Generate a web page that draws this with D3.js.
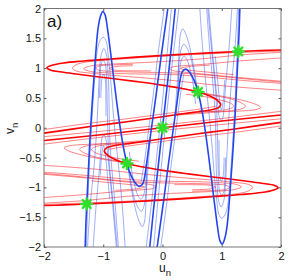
<!DOCTYPE html>
<html>
<head>
<meta charset="utf-8">
<script src="https://cdn.jsdelivr.net/npm/d3@7"></script>
<style>
  body { margin: 0; background: #fff; }
  svg { display: block; }
  text { font-family: "Liberation Sans", Arial, sans-serif; fill: #111; }
</style>
</head>
<body>
<div id="chart"></div>
<script>
// ---- data: unstable manifold branches (u_n, v_n) ----
// stable manifold (blue) is the mirror image across u = v, so it is drawn from the same arrays with axes swapped
const branchA = [[2.0,1.305],[1.65,1.294],[1.28,1.278],[0.8,1.255],[0.24,1.227],[-0.32,1.193],[-0.88,1.154],[-1.33,1.12],[-1.67,1.087],[-1.865,1.048],[-1.95,1.008],[-1.893,0.969],[-1.67,0.93],[-1.33,0.885],[-0.88,0.829],[-0.43,0.773],[0.02,0.711],[0.35,0.655],[0.6,0.6],[0.8,0.532],[0.927,0.459],[0.983,0.392],[0.944,0.336],[0.831,0.303],[0.52,0.258],[0,0.185],[-0.6,0.101],[-1.16,0.028],[-2.0,-0.09]];
const branchB = [[-2.0,-1.305],[-1.65,-1.294],[-1.28,-1.278],[-0.8,-1.255],[-0.24,-1.227],[0.32,-1.193],[0.88,-1.154],[1.33,-1.12],[1.67,-1.087],[1.865,-1.048],[1.95,-1.008],[1.893,-0.969],[1.67,-0.93],[1.33,-0.885],[0.88,-0.829],[0.43,-0.773],[-0.02,-0.711],[-0.35,-0.655],[-0.6,-0.6],[-0.8,-0.532],[-0.927,-0.459],[-0.983,-0.392],[-0.944,-0.336],[-0.831,-0.303],[-0.52,-0.258],[0,-0.185],[0.6,-0.101],[1.16,-0.028],[2.0,0.09]];
const branchC = [[-2,-0.215],[-1,-0.112],[0,0],[1,0.112],[2,0.215]];

const loop0 = [[2.0,1.285],[1.3,1.262],[0.6,1.232],[0,1.2],[-0.6,1.16],[-1.0,1.13],[-1.3,1.1],[-1.46,1.055],[-1.52,1.0],[-1.45,0.95],[-1.2,0.915],[-0.8,0.875],[-0.3,0.835],[0.2,0.79],[0.7,0.735],[1.3,0.68],[2.0,0.63]];
const loop1 = [[2.0,1.265],[1.3,1.22],[0.6,1.15],[0,1.11],[-0.6,1.08],[-1.0,1.06],[-1.22,1.035],[-1.33,0.99],[-1.22,0.945],[-1.0,0.925],[-0.6,0.905],[-0.2,0.9],[0.3,0.885],[0.8,0.845],[1.4,0.79],[2.0,0.745]];
const loop2 = [[-0.5,1.065],[-0.9,1.05],[-1.07,1.035],[-1.13,1.0],[-1.07,0.965],[-0.9,0.948],[-0.5,0.935],[0,0.925],[0.5,0.905],[1.0,0.86],[1.5,0.81],[2.0,0.765]];
const loop3 = [[-0.5,1.04],[-0.8,1.025],[-0.9,0.995],[-0.8,0.965],[-0.5,0.955],[-0.2,0.955]];
const loop4 = [[2.0,1.17],[1.3,1.12],[0.7,1.065],[0.35,1.04],[0.17,1.02],[0.12,0.99],[0.17,0.96],[0.35,0.935],[0.7,0.9],[1.2,0.85],[2.0,0.78]];
const loop5 = [[0.8,1.05],[0.45,1.025],[0.3,0.995],[0.45,0.965],[0.8,0.93],[1.2,0.89]];
const loop6 = [[0.4,0.56],[0.75,0.515],[1.0,0.46],[1.15,0.41],[1.2,0.365],[1.15,0.325],[0.95,0.285],[0.6,0.255],[0.2,0.23]];
const loop7 = [[0.5,0.6],[0.9,0.535],[1.2,0.47],[1.36,0.4],[1.4,0.36],[1.34,0.32],[1.1,0.28],[0.7,0.245],[0.2,0.21]];
const loop8 = [[0.62,0.59],[1.0,0.53],[1.35,0.46],[1.58,0.39],[1.66,0.34],[1.58,0.305],[1.3,0.28],[0.9,0.27],[0.62,0.29]];
const tailA = [[0.9,0.36],[0.6,0.31],[0,0.23],[-0.6,0.15],[-1.2,0.08],[-2.0,-0.03]];
const loop0r = [[-2.0,-1.285],[-1.3,-1.262],[-0.6,-1.232],[0,-1.2],[0.6,-1.16],[1.0,-1.13],[1.3,-1.1],[1.46,-1.055],[1.52,-1.0],[1.45,-0.95],[1.2,-0.915],[0.8,-0.875],[0.3,-0.835],[-0.2,-0.79],[-0.7,-0.735],[-1.3,-0.68],[-2.0,-0.63]];
const loop1r = [[-2.0,-1.265],[-1.3,-1.22],[-0.6,-1.15],[0,-1.11],[0.6,-1.08],[1.0,-1.06],[1.22,-1.035],[1.33,-0.99],[1.22,-0.945],[1.0,-0.925],[0.6,-0.905],[0.2,-0.9],[-0.3,-0.885],[-0.8,-0.845],[-1.4,-0.79],[-2.0,-0.745]];
const loop2r = [[0.5,-1.065],[0.9,-1.05],[1.07,-1.035],[1.13,-1.0],[1.07,-0.965],[0.9,-0.948],[0.5,-0.935],[0,-0.925],[-0.5,-0.905],[-1.0,-0.86],[-1.5,-0.81],[-2.0,-0.765]];
const loop3r = [[0.5,-1.04],[0.8,-1.025],[0.9,-0.995],[0.8,-0.965],[0.5,-0.955],[0.2,-0.955]];
const loop4r = [[-2.0,-1.17],[-1.3,-1.12],[-0.7,-1.065],[-0.35,-1.04],[-0.17,-1.02],[-0.12,-0.99],[-0.17,-0.96],[-0.35,-0.935],[-0.7,-0.9],[-1.2,-0.85],[-2.0,-0.78]];
const loop5r = [[-0.8,-1.05],[-0.45,-1.025],[-0.3,-0.995],[-0.45,-0.965],[-0.8,-0.93],[-1.2,-0.89]];
const loop6r = [[-0.4,-0.56],[-0.75,-0.515],[-1.0,-0.46],[-1.15,-0.41],[-1.2,-0.365],[-1.15,-0.325],[-0.95,-0.285],[-0.6,-0.255],[-0.2,-0.23]];
const loop7r = [[-0.5,-0.6],[-0.9,-0.535],[-1.2,-0.47],[-1.36,-0.4],[-1.4,-0.36],[-1.34,-0.32],[-1.1,-0.28],[-0.7,-0.245],[-0.2,-0.21]];
const loop8r = [[-0.62,-0.59],[-1.0,-0.53],[-1.35,-0.46],[-1.58,-0.39],[-1.66,-0.34],[-1.58,-0.305],[-1.3,-0.28],[-0.9,-0.27],[-0.62,-0.29]];
const tailB = [[-0.9,-0.36],[-0.6,-0.31],[0,-0.23],[0.6,-0.15],[1.2,-0.08],[2.0,0.03]];
const diag1 = [[-2,-0.15],[-1,-0.055],[0,0.045],[1,0.155],[2,0.275]];
const diag2 = [[2,0.15],[1,0.055],[0,-0.045],[-1,-0.155],[-2,-0.275]];

const fixedU = [-1.28, -0.6, 0, 0.6, 1.28];
const fixedV = [-1.28, -0.6, 0, 0.6, 1.28];

const xTicks = [-2, -1, 0, 1, 2];
const yTicks = [-2, -1.5, -1, -0.5, 0, 0.5, 1, 1.5, 2];

const thickCurves = [branchA, branchB, branchC];
const thinCurves = [loop0, loop1, loop2, loop3, loop4, loop5, loop6, loop7, loop8, tailA,
    loop0r, loop1r, loop2r, loop3r, loop4r, loop5r, loop6r, loop7r, loop8r, tailB, diag1, diag2];

// ---- layout ----
const width = 289, height = 280;
const plot = { left: 44, right: 281, top: 8.5, bottom: 247 };

const svg = d3.select("#chart").append("svg")
    .attr("width", width)
    .attr("height", height);

const x = d3.scaleLinear().domain([-2, 2]).range([plot.left, plot.right]);
const y = d3.scaleLinear().domain([-2, 2]).range([plot.bottom, plot.top]);

svg.append("clipPath").attr("id", "plotclip")
    .append("rect")
    .attr("x", plot.left).attr("y", plot.top)
    .attr("width", plot.right - plot.left)
    .attr("height", plot.bottom - plot.top);

const curve = d3.curveCatmullRom.alpha(0.5);
const redLine = d3.line().x(d => x(d[0])).y(d => y(d[1])).curve(curve);
const blueLine = d3.line().x(d => x(d[1])).y(d => y(d[0])).curve(curve);

const g = svg.append("g").attr("clip-path", "url(#plotclip)");

// thin ones first, thick on top
g.selectAll(".red-thin").data(thinCurves).join("path")
    .attr("class", "red-thin")
    .attr("d", redLine)
    .attr("fill", "none")
    .attr("stroke", "#ff1a1a")
    .attr("stroke-opacity", 0.72)
    .attr("stroke-width", 0.75);

g.selectAll(".blue-thin").data(thinCurves).join("path")
    .attr("class", "blue-thin")
    .attr("d", blueLine)
    .attr("fill", "none")
    .attr("stroke", "#2f4ff0")
    .attr("stroke-opacity", 0.62)
    .attr("stroke-width", 0.75);

g.selectAll(".red-thick").data(thickCurves).join("path")
    .attr("class", "red-thick")
    .attr("d", redLine)
    .attr("fill", "none")
    .attr("stroke", "#ff0000")
    .attr("stroke-width", 1.6);

g.selectAll(".blue-thick").data(thickCurves).join("path")
    .attr("class", "blue-thick")
    .attr("d", blueLine)
    .attr("fill", "none")
    .attr("stroke", "#2645ec")
    .attr("stroke-width", 1.6);

// fixed points as asterisks
const r = 5.5;
const star = [0, 45, 90, 135].map(a => {
    const t = a * Math.PI / 180;
    return `M${-r * Math.cos(t)},${-r * Math.sin(t)}L${r * Math.cos(t)},${r * Math.sin(t)}`;
}).join("");

svg.selectAll(".fixed").data(fixedU).join("path")
    .attr("class", "fixed")
    .attr("transform", (d, i) => `translate(${x(d)},${y(fixedV[i])})`)
    .attr("d", star)
    .attr("stroke", "#2ee02a")
    .attr("stroke-width", 2.4)
    .attr("stroke-linecap", "round");

// ---- axes (MATLAB style box, inward ticks) ----
const fmt = d3.format("~g");

svg.append("g")
    .attr("transform", `translate(0,${plot.bottom})`)
    .call(d3.axisBottom(x).tickValues(xTicks).tickFormat(fmt)
        .tickSizeInner(-2.5).tickSizeOuter(0).tickPadding(5));

svg.append("g")
    .attr("transform", `translate(${plot.left},0)`)
    .call(d3.axisLeft(y).tickValues(yTicks).tickFormat(fmt)
        .tickSizeInner(-2.5).tickSizeOuter(0).tickPadding(3));

svg.append("g")
    .attr("transform", `translate(0,${plot.top})`)
    .call(d3.axisTop(x).tickValues(xTicks).tickFormat("")
        .tickSizeInner(-2.5).tickSizeOuter(0));

svg.append("g")
    .attr("transform", `translate(${plot.right},0)`)
    .call(d3.axisRight(y).tickValues(yTicks).tickFormat("")
        .tickSizeInner(-2.5).tickSizeOuter(0));

svg.selectAll(".domain").remove();
svg.selectAll(".tick line").attr("stroke", "#555");
svg.selectAll(".tick text")
    .attr("font-size", 11)
    .attr("font-family", "Liberation Sans, Arial, sans-serif")
    .attr("fill", "#111");

svg.append("rect")
    .attr("x", plot.left).attr("y", plot.top)
    .attr("width", plot.right - plot.left)
    .attr("height", plot.bottom - plot.top)
    .attr("fill", "none")
    .attr("stroke", "#666")
    .attr("stroke-width", 0.9);

// axis labels
const xl = svg.append("text")
    .attr("x", 159).attr("y", 272)
    .attr("font-size", 12);
xl.append("tspan").text("u");
xl.append("tspan").attr("dy", 4).attr("font-size", 9.5).text("n");

const yl = svg.append("text")
    .attr("transform", "translate(14,134) rotate(-90)")
    .attr("font-size", 12);
yl.append("tspan").text("v");
yl.append("tspan").attr("dy", 4).attr("font-size", 9.5).text("n");

svg.append("text")
    .attr("x", 47).attr("y", 27)
    .attr("font-size", 17)
    .text("a)");
</script>
</body>
</html>
